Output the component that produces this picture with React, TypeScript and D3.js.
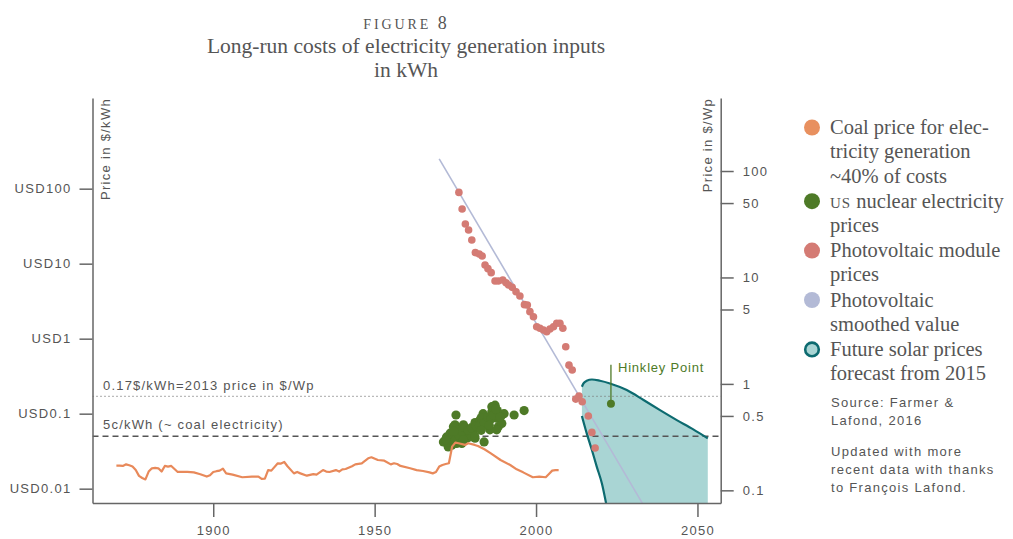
import React, { useRef, useEffect } from "react";
import * as d3 from "d3";

const width = 1013;
const height = 539;

// coal price for electricity generation, $/kWh (left axis)
const coalYears = [1870, 1871, 1872, 1873, 1874, 1875, 1876, 1877, 1878, 1879, 1880, 1881, 1882, 1883, 1884, 1885, 1886, 1887, 1888, 1889, 1892, 1894, 1896, 1898, 1899, 1900, 1901, 1902, 1903, 1904, 1906, 1909, 1912, 1914, 1915, 1916, 1917, 1918, 1920, 1921, 1922, 1923, 1925, 1926, 1927, 1929, 1931, 1932, 1934, 1935, 1936, 1938, 1939, 1940, 1941, 1943, 1944, 1946, 1948, 1949, 1951, 1953, 1955, 1956, 1957, 1958, 1961, 1963, 1965, 1967, 1968, 1969, 1970, 1971, 1972, 1973, 1974, 1975, 1976, 1978, 1979, 1981, 1982, 1984, 1986, 1989, 1992, 1994, 1996, 1999, 2001, 2003, 2004, 2005, 2006, 2007];
const coalPrices = [0.0203, 0.0203, 0.0201, 0.0211, 0.0205, 0.0197, 0.0177, 0.0148, 0.0139, 0.0133, 0.0169, 0.0187, 0.0189, 0.0187, 0.0169, 0.0201, 0.0197, 0.0201, 0.0183, 0.0167, 0.0167, 0.0165, 0.0156, 0.0145, 0.0151, 0.0167, 0.0171, 0.0174, 0.0185, 0.016, 0.0154, 0.0142, 0.0145, 0.0145, 0.0135, 0.0136, 0.0177, 0.0174, 0.0218, 0.0216, 0.0227, 0.0199, 0.016, 0.0167, 0.016, 0.0149, 0.0156, 0.0154, 0.0177, 0.0169, 0.0167, 0.0177, 0.0169, 0.0181, 0.0183, 0.0199, 0.0211, 0.0218, 0.0254, 0.0262, 0.0241, 0.0236, 0.0211, 0.0218, 0.0213, 0.0201, 0.0187, 0.0177, 0.0172, 0.0165, 0.016, 0.0167, 0.0197, 0.0207, 0.0213, 0.0218, 0.0363, 0.0411, 0.0403, 0.0383, 0.0403, 0.0383, 0.0371, 0.0335, 0.0296, 0.0241, 0.0207, 0.0181, 0.0165, 0.0142, 0.0145, 0.0142, 0.0157, 0.0174, 0.0177, 0.0177];

// US nuclear electricity prices, $/kWh (left axis)
const nuclearYears = [1975.2, 1974.4, 1971.8, 1972.3, 1973.4, 1974.9, 1976.2, 1977.5, 1978.0, 1976.4, 1975.4, 1972.8, 1973.9, 1977.0, 1979.5, 1980.6, 1981.1, 1982.6, 1983.6, 1984.2, 1985.2, 1986.3, 1987.3, 1987.0, 1987.8, 1988.3, 1989.4, 1990.1, 1987.8, 1985.7, 1983.9, 1981.1, 1978.5, 1971.3, 1972.8, 1993.2, 1996.3, 1987.3, 1986.3, 1979.0, 1980.0, 1984.5, 1989.0,
  1973.0, 1974.0, 1975.0, 1976.0, 1977.0, 1978.0, 1979.0, 1980.0, 1981.5, 1982.5, 1983.0, 1984.0, 1985.0, 1986.0, 1986.8, 1988.0, 1988.8, 1987.5, 1985.5, 1983.0, 1981.0, 1977.5, 1974.5, 1972.0];
const nuclearPrices = [0.096, 0.067, 0.042, 0.049, 0.055, 0.071, 0.061, 0.071, 0.055, 0.045, 0.04, 0.036, 0.038, 0.04, 0.049, 0.058, 0.076, 0.082, 0.1, 0.084, 0.078, 0.106, 0.124, 0.1, 0.087, 0.067, 0.074, 0.1, 0.061, 0.061, 0.042, 0.047, 0.047, 0.042, 0.042, 0.096, 0.11, 0.13, 0.124, 0.052, 0.05, 0.07, 0.09,
  0.045, 0.05, 0.045, 0.052, 0.058, 0.065, 0.06, 0.065, 0.068, 0.07, 0.088, 0.075, 0.09, 0.085, 0.095, 0.11, 0.09, 0.115, 0.07, 0.06, 0.05, 0.045, 0.058, 0.045];

// photovoltaic module prices, $/Wp (right axis)
const pvYears = [1976.1, 1977.1, 1978.1, 1979.1, 1980.1, 1981.2, 1982.4, 1983.3, 1984.2, 1985.1, 1986.1, 1987.3, 1988.3, 1989.7, 1990.7, 1991.5, 1992.6, 1993.8, 1995.0, 1996.4, 1997.3, 1998.1, 1999.2, 2000.2, 2001.2, 2002.3, 2003.3, 2004.3, 2005.4, 2006.4, 2007.4, 2008.3, 2009.2, 2010.2, 2011.2, 2012.3, 2013.3, 2014.3, 2016.2, 2017.3, 2018.3];
const pvPrices = [63, 44, 31.8, 27.9, 22.5, 17.1, 16.6, 15.9, 13.1, 12.1, 11.1, 9.27, 9.27, 9.46, 8.93, 8.49, 8.07, 7.34, 6.7, 5.55, 5.51, 4.77, 4.28, 3.44, 3.33, 3.21, 3.09, 3.28, 3.44, 3.71, 3.71, 3.33, 2.23, 1.5, 1.35, 0.72, 0.77, 0.68, 0.5, 0.35, 0.25];

// photovoltaic smoothed value, $/Wp (right axis)
const smoothYears = [1970, 2033];
const smoothPrices = [130, 0.075];

// future solar prices forecast from 2015, $/Wp (right axis)
const upperYears = [2014.2, 2014.7, 2015.7, 2017.3, 2019.8, 2022.9, 2028.1, 2033.3, 2038.4, 2043.6, 2048.7, 2053.2];
const upperPrices = [0.94, 1.01, 1.07, 1.1, 1.07, 1.01, 0.875, 0.705, 0.567, 0.457, 0.374, 0.308];
const lowerYears = [2014.2, 2015.7, 2017.3, 2018.8, 2020.4, 2021.7];
const lowerPrices = [0.5, 0.343, 0.239, 0.167, 0.116, 0.0755];

// Hinkley Point strike price, $/kWh
const hinkley = { year: 2023.2, price: 0.136 };

const xTicks = [1900, 1950, 2000, 2050];
const leftTicks = [0.01, 0.1, 1, 10, 100];
const rightTicks = [0.1, 0.5, 1, 5, 10, 50, 100];

const legendItems = [
  { color: "#E8905F", lines: ["Coal price for elec-", "tricity generation", "~40% of costs"] },
  { color: "#4E7A27", lines: ["§US nuclear electricity", "prices"] },
  { color: "#D47B74", lines: ["Photovoltaic module", "prices"] },
  { color: "#B3BAD6", lines: ["Photovoltaic", "smoothed value"] },
  { color: "#A9D5D4", stroke: "#0D6B70", lines: ["Future solar prices", "forecast from 2015"] },
];
const notes = [["Source: Farmer &", "Lafond, 2016"], ["Updated with more", "recent data with thanks", "to François Lafond."]];

const sans = "'Liberation Sans', Arial, sans-serif";
const serif = "'Liberation Serif', 'Times New Roman', serif";
const grey = "#555";

const App = () => {
  const ref = useRef<SVGSVGElement>(null);

  useEffect(() => {
    const svg = d3.select(ref.current);
    svg.selectAll("*").remove();

    const left = 92.5, right = 720.7, top = 98, bottom = 503;
    const x = d3.scaleLinear().domain([1862.6, 2057.2]).range([left, right]);
    const yL = d3.scaleLog().domain([Math.pow(10, -2.191), Math.pow(10, 3.209)]).range([bottom, top]);
    const yR = d3.scaleLog().domain([Math.pow(10, -1.119), Math.pow(10, 2.686)]).range([bottom, top]);

    svg.append("clipPath").attr("id", "plot")
      .append("rect").attr("x", left).attr("y", top).attr("width", right - left).attr("height", bottom - top);
    const plot = svg.append("g").attr("clip-path", "url(#plot)");

    // forecast band
    const up = upperYears.map((d, i) => [x(d), yR(upperPrices[i])] as [number, number]);
    const lo = lowerYears.map((d, i) => [x(d), yR(lowerPrices[i])] as [number, number]);
    const curve = d3.line().curve(d3.curveMonotoneX);
    const lastUp = up[up.length - 1];
    const lastLo = lo[lo.length - 1];
    const bandPath = (curve(up) as string)
      + `L${lastUp[0]},${bottom}L${lastLo[0]},${bottom}`
      + (d3.line()(lo.slice().reverse()) as string).replace("M", "L") + "Z";
    plot.append("path").attr("d", bandPath).attr("fill", "#A9D5D4");

    // reference lines
    plot.append("line").attr("x1", left).attr("x2", right).attr("y1", yL(0.17)).attr("y2", yL(0.17))
      .attr("stroke", "#777").attr("stroke-width", 1.2).attr("stroke-dasharray", "1 3");
    plot.append("line").attr("x1", left).attr("x2", right).attr("y1", yL(0.05)).attr("y2", yL(0.05))
      .attr("stroke", "#555").attr("stroke-width", 1.3).attr("stroke-dasharray", "6 4");

    // smoothed PV
    plot.append("path")
      .attr("d", d3.line()(smoothYears.map((d, i) => [x(d), yR(smoothPrices[i])])) as string)
      .attr("fill", "none").attr("stroke", "#B3BAD6").attr("stroke-width", 1.6);

    // forecast edges
    plot.append("path").attr("d", curve(up) as string)
      .attr("fill", "none").attr("stroke", "#0D6B70").attr("stroke-width", 2.2);
    plot.append("path").attr("d", curve(lo) as string)
      .attr("fill", "none").attr("stroke", "#0D6B70").attr("stroke-width", 2.2);

    // nuclear
    plot.append("g").selectAll("circle").data(nuclearYears).join("circle")
      .attr("cx", (d) => x(d)).attr("cy", (d, i) => yL(nuclearPrices[i])).attr("r", 4.6)
      .attr("fill", "#4E7A27");

    // coal
    plot.append("path")
      .attr("d", d3.line()(coalYears.map((d, i) => [x(d), yL(coalPrices[i])])) as string)
      .attr("fill", "none").attr("stroke", "#E8895A").attr("stroke-width", 2.2).attr("stroke-linejoin", "round");

    // PV modules
    plot.append("g").selectAll("circle").data(pvYears).join("circle")
      .attr("cx", (d) => x(d)).attr("cy", (d, i) => yR(pvPrices[i])).attr("r", 3.8)
      .attr("fill", "#D47B74");

    // Hinkley Point
    const hx = x(hinkley.year), hy = yL(hinkley.price);
    svg.append("line").attr("x1", hx).attr("x2", hx).attr("y1", hy).attr("y2", hy - 39)
      .attr("stroke", "#4E7A27").attr("stroke-width", 1.3);
    svg.append("circle").attr("cx", hx).attr("cy", hy).attr("r", 4).attr("fill", "#4E7A27");
    svg.append("text").attr("x", hx + 7).attr("y", hy - 32).text("Hinkley Point")
      .attr("fill", "#4E7A27").attr("font-family", sans).attr("font-size", 13).attr("letter-spacing", 0.8);

    // annotations
    svg.append("text").attr("x", 103).attr("y", yL(0.17) - 6).text("0.17$/kWh=2013 price in $/Wp")
      .attr("fill", grey).attr("font-family", sans).attr("font-size", 13).attr("letter-spacing", 1.2);
    svg.append("text").attr("x", 103).attr("y", yL(0.05) - 7).text("5c/kWh (~ coal electricity)")
      .attr("fill", grey).attr("font-family", sans).attr("font-size", 13).attr("letter-spacing", 1.2);

    // axes
    const styleAxis = (g: any) => {
      g.select(".domain").attr("stroke", "#666").attr("stroke-width", 1.5);
      g.selectAll(".tick line").attr("stroke", "#666").attr("stroke-width", 1.5);
      g.selectAll("text").attr("fill", grey).attr("font-family", sans).attr("font-size", 13).attr("letter-spacing", 1.3);
    };
    svg.append("g").attr("transform", `translate(${left},0)`)
      .call(d3.axisLeft(yL).tickValues(leftTicks).tickFormat((d: any) => "USD" + d).tickSize(13).tickSizeOuter(0).tickPadding(8))
      .call(styleAxis);
    svg.append("g").attr("transform", `translate(${right},0)`)
      .call(d3.axisRight(yR).tickValues(rightTicks).tickFormat((d: any) => String(d)).tickSize(13).tickSizeOuter(0).tickPadding(9))
      .call(styleAxis);
    svg.append("g").attr("transform", `translate(0,${bottom})`)
      .call(d3.axisBottom(x).tickValues(xTicks).tickFormat(d3.format("d")).tickSize(14).tickSizeOuter(0).tickPadding(9))
      .call(styleAxis);

    svg.append("text").attr("transform", `translate(110,${top}) rotate(-90)`).attr("text-anchor", "end")
      .text("Price in $/kWh").attr("fill", grey).attr("font-family", sans).attr("font-size", 13).attr("letter-spacing", 1.3);
    svg.append("text").attr("transform", `translate(712,${top}) rotate(-90)`).attr("text-anchor", "end")
      .text("Price in $/Wp").attr("fill", grey).attr("font-family", sans).attr("font-size", 13).attr("letter-spacing", 1.3);

    // title
    const title = svg.append("text").attr("x", 405).attr("y", 29).attr("text-anchor", "middle")
      .attr("fill", grey).attr("font-family", serif);
    title.append("tspan").attr("font-size", 14).attr("letter-spacing", 2.9).text("FIGURE ");
    title.append("tspan").attr("font-size", 18).text("8");
    svg.append("text").attr("x", 406).attr("y", 53).attr("text-anchor", "middle").text("Long-run costs of electricity generation inputs")
      .attr("fill", grey).attr("font-family", serif).attr("font-size", 21.5);
    svg.append("text").attr("x", 406).attr("y", 77).attr("text-anchor", "middle").text("in kWh")
      .attr("fill", grey).attr("font-family", serif).attr("font-size", 21.5);

    // legend
    const legend = svg.append("g");
    let ly = 134;
    legendItems.forEach((item) => {
      legend.append("circle").attr("cx", 812).attr("cy", ly - 6.5).attr("r", item.stroke ? 6.8 : 8)
        .attr("fill", item.color).attr("stroke", item.stroke || "none").attr("stroke-width", item.stroke ? 2.6 : 0);
      item.lines.forEach((line, j) => {
        const t = legend.append("text").attr("x", 830).attr("y", ly + j * 24.3)
          .attr("fill", grey).attr("font-family", serif).attr("font-size", 20.5);
        if (line.startsWith("§")) {
          t.append("tspan").attr("font-size", 15).attr("letter-spacing", 1).text("US");
          t.append("tspan").text(line.slice(3));
        } else {
          t.text(line);
        }
      });
      ly += item.lines.length * 24.3 + 0.8;
    });
    let ny = 407;
    notes.forEach((block) => {
      block.forEach((line, j) => {
        legend.append("text").attr("x", 831).attr("y", ny + j * 18).text(line)
          .attr("fill", grey).attr("font-family", sans).attr("font-size", 13).attr("letter-spacing", 1.3);
      });
      ny += block.length * 18 + 13;
    });
  }, []);

  return (
    <div style={{ position: "absolute", left: 0, top: 0 }}>
      <svg ref={ref} width={width} height={height} style={{ display: "block", background: "#fff" }}></svg>
    </div>
  );
};

export default App;
